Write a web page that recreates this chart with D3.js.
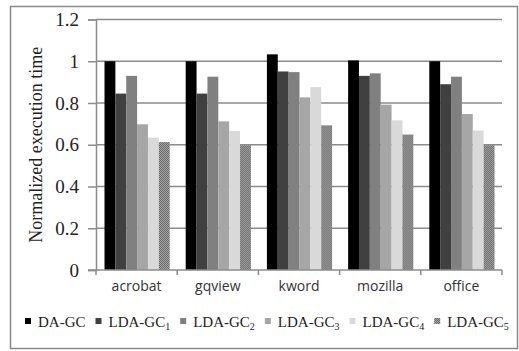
<!DOCTYPE html>
<html>
<head>
<meta charset="utf-8">
<script src="https://cdn.jsdelivr.net/npm/d3@7"></script>
<style>
  html, body { margin: 0; padding: 0; background: #fff; }
  svg { display: block; }
</style>
</head>
<body>
<svg id="chart" width="519" height="351"></svg>
<script>
// Benchmarks and collector variants
const categories = ["acrobat", "gqview", "kword", "mozilla", "office"];
const seriesNames = ["DA-GC", "LDA-GC1", "LDA-GC2", "LDA-GC3", "LDA-GC4", "LDA-GC5"];
const seriesSubs = ["", "1", "2", "3", "4", "5"];

// Normalized execution time per benchmark, one array per collector
const daGC    = [1.000, 1.000, 1.033, 1.004, 1.000];
const ldaGC1  = [0.845, 0.845, 0.951, 0.930, 0.890];
const ldaGC2  = [0.930, 0.926, 0.948, 0.942, 0.926];
const ldaGC3  = [0.698, 0.712, 0.827, 0.792, 0.747];
const ldaGC4  = [0.634, 0.666, 0.876, 0.717, 0.668];
const ldaGC5  = [0.613, 0.598, 0.693, 0.649, 0.598];

const yTicks = [0, 0.2, 0.4, 0.6, 0.8, 1, 1.2];

const seriesValues = [daGC, ldaGC1, ldaGC2, ldaGC3, ldaGC4, ldaGC5];
const fills = ["#000000", "#404040", "#808080", "#a6a6a6", "#d9d9d9", "url(#dots)"];

const svg = d3.select("#chart");

// Checkered fill for the last series
const defs = svg.append("defs");
const pat = defs.append("pattern").attr("id", "dots")
  .attr("width", 2).attr("height", 2).attr("patternUnits", "userSpaceOnUse");
pat.append("rect").attr("width", 2).attr("height", 2).attr("fill", "#a4a4a4");
pat.append("rect").attr("width", 1).attr("height", 1).attr("fill", "#6a6a6a");
pat.append("rect").attr("x", 1).attr("y", 1).attr("width", 1).attr("height", 1).attr("fill", "#6a6a6a");

// Outer frame
svg.append("rect").attr("x", 10.5).attr("y", 6.5).attr("width", 507).attr("height", 342)
  .attr("fill", "#fff").attr("stroke", "#8a8a8a").attr("stroke-width", 1.5);

const plot = { left: 96, right: 502, top: 19.5, bottom: 270 };

const y = d3.scaleLinear().domain([0, 1.2]).range([plot.bottom, plot.top]);
const x0 = d3.scaleBand().domain(categories).range([plot.left, plot.right]).padding(0);
const x1 = d3.scaleBand().domain(seriesNames).range([8.5, x0.bandwidth() - 7.5]).padding(0);

const gridColor = "#8c8c8c";

// Horizontal gridlines
svg.append("g").selectAll("line").data(yTicks.filter(d => d > 0)).join("line")
  .attr("x1", plot.left).attr("x2", plot.right)
  .attr("y1", d => y(d)).attr("y2", d => y(d))
  .attr("stroke", gridColor).attr("stroke-width", 1.5);

// Bars
const groups = svg.append("g").selectAll("g").data(categories).join("g")
  .attr("transform", c => `translate(${x0(c)},0)`);
groups.selectAll("rect")
  .data((c, i) => seriesNames.map((s, k) => ({ s, k, v: seriesValues[k][i] })))
  .join("rect")
  .attr("x", d => x1(d.s))
  .attr("width", x1.bandwidth())
  .attr("y", d => y(d.v))
  .attr("height", d => y(0) - y(d.v))
  .attr("fill", d => fills[d.k]);

// Y axis
const yAxis = d3.axisLeft(y).tickValues(yTicks).tickSize(8).tickPadding(9)
  .tickFormat(d => d3.format("")(+d.toFixed(1)));
const gy = svg.append("g").attr("transform", `translate(${plot.left},0)`).call(yAxis);
gy.select(".domain").attr("stroke", gridColor).attr("stroke-width", 1.5);
gy.selectAll(".tick line").attr("stroke", gridColor).attr("stroke-width", 1.5);
gy.selectAll(".tick text")
  .attr("font-family", "'Liberation Serif', 'Times New Roman', serif")
  .attr("font-size", 19).attr("fill", "#222");

// X axis: ticks at category boundaries
const boundaries = categories.map(c => x0(c)).concat([plot.right]);
svg.append("line").attr("x1", plot.left - 8).attr("x2", plot.right)
  .attr("y1", plot.bottom).attr("y2", plot.bottom)
  .attr("stroke", gridColor).attr("stroke-width", 1.5);
svg.append("g").selectAll("line").data(boundaries).join("line")
  .attr("x1", d => d).attr("x2", d => d)
  .attr("y1", plot.bottom).attr("y2", plot.bottom + 5)
  .attr("stroke", gridColor).attr("stroke-width", 1.5);
svg.append("g").selectAll("text").data(categories).join("text")
  .attr("x", c => x0(c) + x0.bandwidth() / 2)
  .attr("y", 291)
  .attr("text-anchor", "middle")
  .attr("font-family", "'Open Sans', sans-serif")
  .attr("font-size", 14).attr("fill", "#333")
  .text(c => c);

// Y axis title
svg.append("text")
  .attr("transform", `translate(42,${(plot.top + plot.bottom) / 2}) rotate(-90)`)
  .attr("text-anchor", "middle")
  .attr("font-family", "'Liberation Serif', 'Times New Roman', serif")
  .attr("font-size", 18).attr("fill", "#222")
  .text("Normalized execution time");

// Legend
const legend = svg.append("g").attr("transform", "translate(0,327)");
let lx = 25;
seriesNames.forEach((name, k) => {
  const base = seriesSubs[k] ? name.slice(0, -1) : name;
  legend.append("rect").attr("x", lx).attr("y", -9).attr("width", 6).attr("height", 6)
    .attr("fill", fills[k]);
  const t = legend.append("text").attr("x", lx + 13).attr("y", 0)
    .attr("font-family", "'Liberation Serif', 'Times New Roman', serif")
    .attr("font-size", 15).attr("fill", "#222");
  t.append("tspan").text(base);
  if (seriesSubs[k]) {
    t.append("tspan").attr("font-size", 10).attr("dy", 3).text(seriesSubs[k]);
  }
  lx += 13 + t.node().getComputedTextLength() + 10;
});
</script>
</body>
</html>
